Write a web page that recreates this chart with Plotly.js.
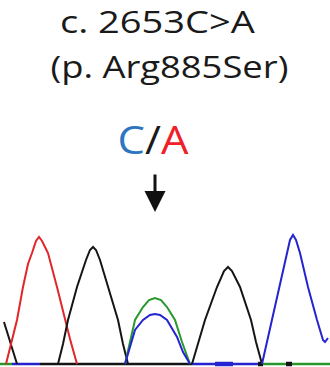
<!DOCTYPE html>
<html><head><meta charset="utf-8">
<script src="https://cdn.plot.ly/plotly-3.0.1.min.js"></script>
<style>html,body{margin:0;padding:0;background:#fff}#chart{width:330px;height:367px}</style>
</head><body><div id="chart"></div>
<script>
// Peak traces (x = scan position, y = signal height)
const redX   = [6, 12, 17, 23, 28, 32, 36, 39, 42, 46, 48, 57, 65, 70, 77];
const redY   = [0, 25, 44, 77, 100, 111, 123, 127, 123, 115, 111, 77, 44, 25, 0];
const blackX1 = [4, 11, 17];
const blackY1 = [42, 20, 0];
const blackX2 = [58, 63, 68, 77, 86, 90, 93, 96, 100, 108, 118, 123, 128];
const blackY2 = [0, 20, 44, 77, 104, 114, 117, 114, 104, 77, 44, 20, 0];
const greenX = [125, 130, 135, 143, 149, 155, 161, 167, 175, 182, 190];
const greenY = [0, 22, 44, 57, 64, 66, 64, 57, 44, 22, 0];
const blueX1 = [125, 135, 143, 150, 155, 160, 167, 177, 183, 190];
const blueY1 = [0, 34, 44, 49, 50, 49, 44, 27, 12, 0];
const blackX3 = [192, 198, 205, 217, 224, 228, 232, 240, 251, 256, 262];
const blackY3 = [0, 20, 44, 77, 93, 97, 93, 77, 44, 22, 0];
const blueX2 = [262, 267, 272, 280, 287, 290, 293, 296, 300, 308, 317, 323, 325, 328];
const blueY2 = [0, 22, 44, 77, 111, 124, 129, 124, 111, 77, 44, 24, 22, 26];
// Baseline segments [start, end]
const baseGreen = [[0, 12], [262, 330]];
const baseBlue  = [[12, 40], [192, 260]];
const baseBlack = [[40, 192]];
const baseBlueThick  = [[215, 233]];
const baseBlackThick = [[258, 263], [286, 292]];
// Labels
const line1 = 'c. 2653C>A';
const line2 = '(p. Arg885Ser)';
const callRef = 'C';
const callAlt = 'A';

const RED = '#e0262a', BLACK = '#151515', GREEN = '#28982c', BLUE = '#2424d0';
const traces = [];
function seg(list, color, w) {
  list.forEach(s => traces.push({x: s, y: [0, 0], mode: 'lines', line: {color: color, width: w}, hoverinfo: 'skip'}));
}
seg(baseGreen, GREEN, 2.5); seg(baseBlack, BLACK, 2.5); seg(baseBlue, BLUE, 2.5);
seg(baseBlueThick, BLUE, 4.5); seg(baseBlackThick, BLACK, 4.5);
function peak(x, y, c) { traces.push({x: x, y: y, mode: 'lines', line: {color: c, width: 2}, hoverinfo: 'skip'}); }
peak(blackX1, blackY1, BLACK);
peak(redX, redY, RED);
peak(blackX2, blackY2, BLACK);
peak(greenX, greenY, GREEN);
peak(blueX1, blueY1, BLUE);
peak(blackX3, blackY3, BLACK);
peak(blueX2, blueY2, BLUE);

const F = 'Open Sans, sans-serif';
const layout = {
  width: 330, height: 367, margin: {l: 0, r: 0, t: 0, b: 0},
  paper_bgcolor: '#fff', plot_bgcolor: '#fff', showlegend: false,
  xaxis: {range: [0, 330], visible: false, fixedrange: true},
  yaxis: {range: [-3, 364], visible: false, fixedrange: true},
  annotations: [
    {x: 157.5, y: 343, text: line1, showarrow: false, font: {family: F, size: 31, color: '#1a1a1a'}, xanchor: 'center', yanchor: 'middle'},
    {x: 169, y: 298, text: line2, showarrow: false, font: {family: F, size: 31, color: '#1a1a1a'}, xanchor: 'center', yanchor: 'middle'},
    {x: 152.5, y: 225, text: '<span style="color:#2e74c0">' + callRef + '</span>/<span style="color:#f0202a">' + callAlt + '</span>', showarrow: false, font: {family: F, size: 38, color: '#1a1a1a'}, xanchor: 'center', yanchor: 'middle'},
    {x: 155, y: 152, ax: 0, ay: -39, text: '', showarrow: true, arrowhead: 2, arrowsize: 1.4, arrowwidth: 3, arrowcolor: '#111', standoff: 0}
  ]
};
const widths = {0: 195, 1: 238, 2: 71};
Plotly.newPlot('chart', traces, layout, {staticPlot: true, displayModeBar: false}).then(gd => {
  gd.querySelectorAll('g.annotation').forEach(g => {
    const w = widths[g.getAttribute('data-index')];
    const t = g.querySelector('text.annotation-text');
    if (w && t) { t.setAttribute('textLength', w); t.setAttribute('lengthAdjust', 'spacingAndGlyphs'); }
  });
});
</script></body></html>
